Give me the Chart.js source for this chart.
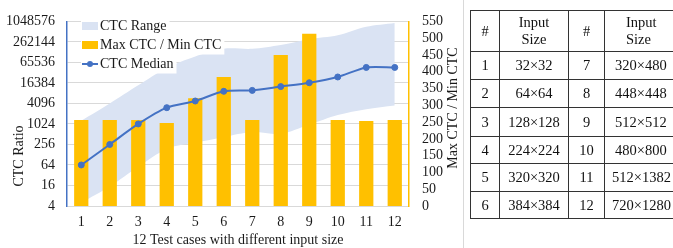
<!DOCTYPE html>
<html><head><meta charset="utf-8">
<script src="https://cdn.jsdelivr.net/npm/chart.js@4.4.1/dist/chart.umd.min.js"></script>
<style>
html,body{margin:0;padding:0;background:#fff;width:673px;height:248px;overflow:hidden;position:relative;}
#c{position:absolute;left:0;top:0;}
#sep{position:absolute;left:463px;top:0;width:1px;height:248px;background:#D9D9D9;}
table{position:absolute;left:470px;top:10px;border-collapse:collapse;font-family:"Liberation Serif","Times New Roman",serif;font-size:14.5px;color:#111;table-layout:fixed;width:218px;}
td{border:1px solid #333;text-align:center;vertical-align:middle;padding:0;line-height:17px;white-space:pre-line;}
</style></head><body>
<canvas id="c" width="464" height="248"></canvas>
<div id="sep"></div>
<table id="t"></table>
<script>
// ---- data ----
const categories = ['1','2','3','4','5','6','7','8','9','10','11','12'];
const rangeLow  = [5, 15, 57, 190, 290, 420, 590, 520, 980, 1880, 2780, 3590];
const rangeHigh = [1280, 4100, 14000, 45000, 98000, 165000, 165000, 213000, 314000, 408000, 730000, 944000];
const ctcMedian = [64, 256, 1024, 3080, 4830, 9300, 9900, 12800, 16600, 24500, 46700, 46700];
const maxMinRatio = [256, 256, 256, 247, 321, 384, 256, 450, 513, 256, 253, 256];
const leftTicks = [4, 16, 64, 256, 1024, 4096, 16384, 65536, 262144, 1048576];
const seriesNames = ['CTC Range', 'Max CTC / Min CTC', 'CTC Median'];
const axisTitles = ['CTC Ratio', 'Max CTC / Min CTC', '12 Test cases with different input size'];
const tableHeader = ['#', 'Input\nSize', '#', 'Input\nSize'];
const tableIdsA = ['1','2','3','4','5','6'];
const tableSizesA = ['32×32','64×64','128×128','224×224','320×320','384×384'];
const tableIdsB = ['7','8','9','10','11','12'];
const tableSizesB = ['320×480','448×448','512×512','480×800','512×1382','720×1280'];

// ---- styles ----
const F = '"Liberation Serif","Times New Roman",serif';
const bandColor = '#DAE3F3';
const barColor = '#FFC000';
const lineColor = '#4472C4';
const textColor = '#1a1a1a';

// ---- table ----
(function(){
  const t = document.getElementById('t');
  const cg = document.createElement('colgroup');
  [29, 69, 36, 84].forEach(w => { const c = document.createElement('col'); c.style.width = w + 'px'; cg.appendChild(c); });
  t.appendChild(cg);
  const heights = [41, 28, 28, 29, 27, 28, 27];
  const rows = [tableHeader];
  for (let i = 0; i < tableIdsA.length; i++) rows.push([tableIdsA[i], tableSizesA[i], tableIdsB[i], tableSizesB[i]]);
  rows.forEach((r, i) => {
    const tr = document.createElement('tr'); tr.style.height = heights[i] + 'px';
    r.forEach((v, j) => {
      const td = document.createElement('td'); td.textContent = v;
      if (j === 3) { td.style.textAlign = 'left'; td.style.paddingLeft = (v.indexOf('\n') >= 0 ? 21 : (v.length >= 8 ? 7 : 10)) + 'px'; }
      tr.appendChild(td);
    });
    t.appendChild(tr);
  });
})();

// ---- legend icons ----
function icon(draw){ const c = document.createElement('canvas'); c.width = 16; c.height = 8; draw(c.getContext('2d')); return c; }
const rangeIcon = icon(g => { g.fillStyle = bandColor; g.fillRect(0,0,16,8); });
const barIcon = icon(g => { g.fillStyle = barColor; g.fillRect(0,0,16,8); });
const medIcon = icon(g => { g.strokeStyle = lineColor; g.lineWidth = 2; g.beginPath(); g.moveTo(0,4); g.lineTo(16,4); g.stroke(); g.fillStyle = lineColor; g.beginPath(); g.arc(8,4,3,0,Math.PI*2); g.fill(); });

const LEG_PAD = 5;
function paintLegendBg(chart){
  const lg = chart.legend, ctx = chart.ctx;
  ctx.save();
  ctx.font = '14px ' + F;
  ctx.fillStyle = '#fff';
  seriesNames.forEach((n, i) => {
    const y0 = lg.top + LEG_PAD + i * (14 + LEG_PAD);
    const tx = lg.left + LEG_PAD + 6 + 7;
    const w = ctx.measureText(n).width;
    ctx.fillRect(lg.left - 1, y0 - 2.5, tx + w + 3 - (lg.left - 1), 14 + LEG_PAD);
  });
  ctx.restore();
}

const customPlugin = {
  id: 'custom',
  beforeUpdate(chart){
    const lg = chart.legend;
    if (lg && !lg._custom) {
      lg._custom = true;
      lg._layers = function(){ return [{ z: 5, draw: () => { paintLegendBg(chart); lg.draw(); } }]; };
    }
  },
  afterLayout(chart){ const lg = chart.legend; lg.left = 82; lg.top = 14; },
  afterDraw(chart){
    const ctx = chart.ctx;
    ctx.save();
    ctx.font = '14px ' + F;
    ctx.fillStyle = textColor;
    ctx.textAlign = 'center'; ctx.textBaseline = 'middle';
    ctx.save(); ctx.translate(19, 156); ctx.rotate(-Math.PI/2); ctx.fillText(axisTitles[0], 0, 0); ctx.restore();
    ctx.save(); ctx.translate(453, 108); ctx.rotate(-Math.PI/2); ctx.fillText(axisTitles[1], 0, 0); ctx.restore();
    ctx.fillText(axisTitles[2], 238, 240);
    ctx.restore();
  }
};

new Chart(document.getElementById('c'), {
  type: 'bar',
  data: {
    labels: categories,
    datasets: [
      { type: 'line', label: seriesNames[0], data: rangeHigh, yAxisID: 'y', fill: '+1', backgroundColor: bandColor, borderWidth: 0, borderColor: 'rgba(0,0,0,0)', pointRadius: 0, tension: 0.3, order: 2 },
      { type: 'line', label: 'low', data: rangeLow, yAxisID: 'y', fill: false, borderWidth: 0, borderColor: 'rgba(0,0,0,0)', pointRadius: 0, tension: 0.3, order: 3 },
      { type: 'bar', label: seriesNames[1], data: maxMinRatio, yAxisID: 'y1', backgroundColor: barColor, barPercentage: 0.5, categoryPercentage: 1.0, order: 1 },
      { type: 'line', label: seriesNames[2], data: ctcMedian, yAxisID: 'y', borderColor: lineColor, backgroundColor: lineColor, borderWidth: 2, pointRadius: 3, pointBorderWidth: 1, pointBackgroundColor: lineColor, pointBorderColor: lineColor, tension: 0.25, fill: false, order: 0 }
    ]
  },
  options: {
    responsive: false, animation: false, devicePixelRatio: 1,
    layout: { autoPadding: false, padding: { top: 13, left: 0, right: 0, bottom: 0 } },
    plugins: {
      tooltip: { enabled: false },
      legend: {
        position: 'chartArea', align: 'start',
        labels: {
          usePointStyle: true, pointStyleWidth: 6, boxHeight: 14, padding: LEG_PAD,
          font: { family: F, size: 14 }, color: textColor,
          generateLabels: () => [
            { text: seriesNames[0], pointStyle: rangeIcon, fillStyle: bandColor, strokeStyle: bandColor, lineWidth: 0, hidden: false, datasetIndex: 0, fontColor: textColor },
            { text: seriesNames[1], pointStyle: barIcon, fillStyle: barColor, strokeStyle: barColor, lineWidth: 0, hidden: false, datasetIndex: 2, fontColor: textColor },
            { text: seriesNames[2], pointStyle: medIcon, fillStyle: lineColor, strokeStyle: lineColor, lineWidth: 0, hidden: false, datasetIndex: 3, fontColor: textColor }
          ]
        }
      }
    },
    scales: {
      x: {
        offset: true,
        grid: { display: false, drawTicks: false }, border: { display: false },
        ticks: { padding: 8, font: { family: F, size: 14 }, color: textColor, maxRotation: 0, autoSkip: false },
        afterFit(s){ s.height = 42; }
      },
      y: {
        type: 'logarithmic', position: 'left', min: 4, max: 1048576,
        afterBuildTicks(s){ s.ticks = leftTicks.map(v => ({ value: v })); },
        ticks: { callback: v => String(v), padding: 12, font: { family: F, size: 14 }, color: textColor, autoSkip: false },
        grid: { color: '#D9D9D9', drawTicks: false, lineWidth: 1 },
        border: { color: lineColor, width: 1.5 },
        afterFit(s){ s.width = 67; }
      },
      y1: {
        position: 'right', min: 0, max: 550,
        ticks: { stepSize: 50, padding: 13, font: { family: F, size: 14 }, color: textColor, autoSkip: false },
        grid: { display: false, drawTicks: false },
        border: { color: barColor, width: 1.5 },
        afterFit(s){ s.width = 55; }
      }
    }
  },
  plugins: [customPlugin]
});
</script>
</body></html>
